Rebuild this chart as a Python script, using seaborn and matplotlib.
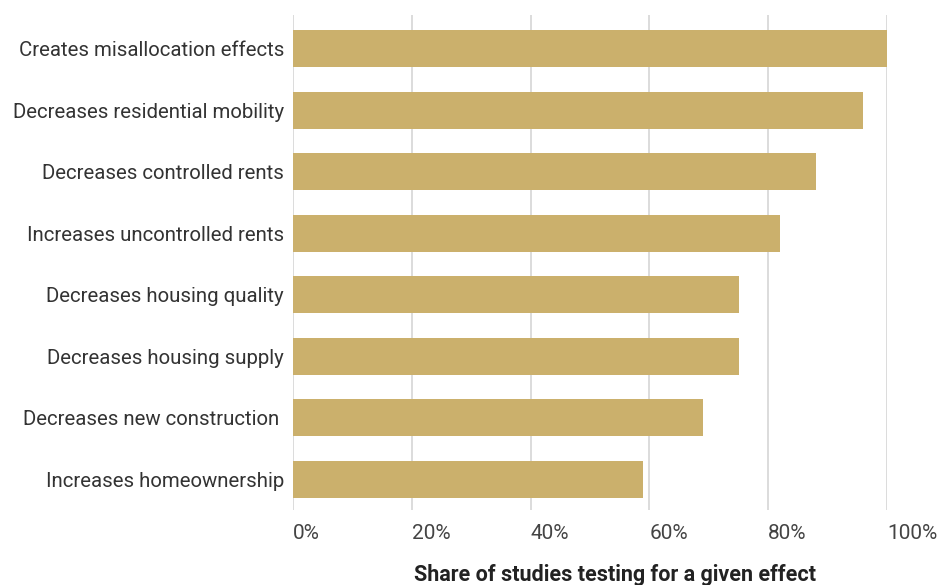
import pandas as pd
import matplotlib.pyplot as plt
import seaborn as sns
from matplotlib.ticker import PercentFormatter

# effects and share of studies
effects = [
    'Creates misallocation effects',
    'Decreases residential mobility',
    'Decreases controlled rents',
    'Increases uncontrolled rents',
    'Decreases housing quality',
    'Decreases housing supply',
    'Decreases new construction ',
    'Increases homeownership',
]
shares = [1.00, 0.96, 0.88, 0.82, 0.75, 0.75, 0.69, 0.59]
x_ticks = [0, 0.2, 0.4, 0.6, 0.8, 1.0]

df = pd.DataFrame({'effect': effects, 'share': shares})

sns.set_style('white')
plt.rcParams['font.family'] = ['Roboto', 'Liberation Sans', 'DejaVu Sans']

fig = plt.figure(figsize=(9.4, 5.85), dpi=100)
ax = fig.add_axes([293 / 940, 1 - 510 / 585, 594 / 940, 495 / 585])

sns.barplot(data=df, x='share', y='effect', color='#CBB06C', width=0.6,
            saturation=1, linewidth=0, ax=ax, zorder=3)

ax.set_xlim(0, 1)
ax.set_ylim(7.5, -0.55)
ax.set_xticks(x_ticks)
ax.xaxis.set_major_formatter(PercentFormatter(1.0, decimals=0))
ax.grid(axis='x', color='#d9d9d9', linewidth=1.3, zorder=0)
ax.grid(axis='y', visible=False)
for s in ax.spines.values():
    s.set_visible(False)
ax.tick_params(axis='x', length=0, pad=10, labelsize=15, labelcolor='#444444')
ax.tick_params(axis='y', length=0, pad=6.5, labelsize=14.7, labelcolor='#333333')
for t in ax.get_xticklabels():
    t.set_horizontalalignment('left')
ax.set_xlabel('')
ax.set_ylabel('')

fig.text(615 / 940, 1 - 575 / 585, 'Share of studies testing for a given effect',
         ha='center', va='center', fontsize=15.5, fontweight='bold', color='#222222')

fig.savefig('out.png', dpi=100)
